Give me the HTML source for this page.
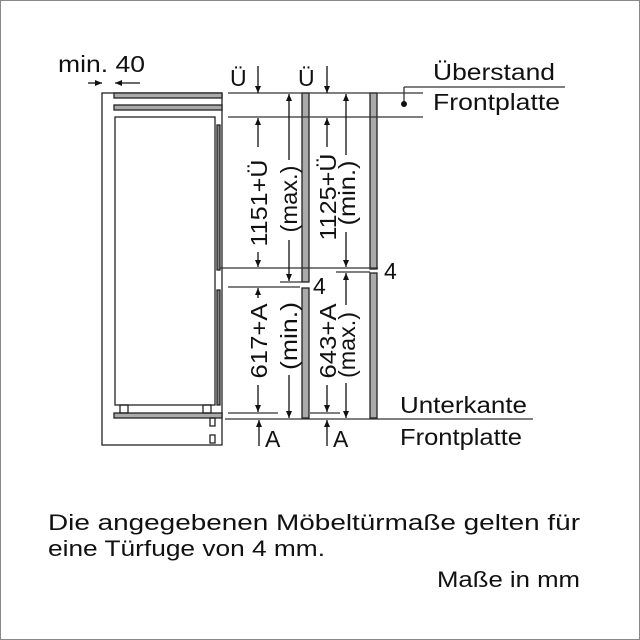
<!DOCTYPE html>
<html><head><style>
html,body{margin:0;padding:0;background:#fff}
svg{display:block}
text{font-family:"Liberation Sans",sans-serif;fill:#111}
</style></head><body>
<svg width="640" height="640" viewBox="0 0 640 640" xmlns="http://www.w3.org/2000/svg">
<defs>
<marker id="ah" markerWidth="8" markerHeight="8" refX="7" refY="4" orient="auto" markerUnits="userSpaceOnUse"><path d="M0,1 L7,4 L0,7 z" fill="#111"/></marker>
</defs>
<rect x="0.5" y="0.5" width="639" height="639" fill="#fff" stroke="#888"/>
<g stroke="#222" stroke-width="1.3" fill="none">
<rect x="102" y="93" width="120" height="352"/>
<rect x="114" y="93" width="108" height="5" fill="#aaa"/>
<rect x="114" y="105" width="108" height="5" fill="#aaa"/>
<rect x="115" y="117" width="100" height="288"/>
<rect x="217" y="125" width="3" height="145" fill="#888"/>
<rect x="217" y="290" width="3" height="115" fill="#888"/>
<rect x="114" y="413" width="108" height="5" fill="#aaa"/>
<rect x="120" y="405" width="8" height="8"/><rect x="203" y="405" width="8" height="8"/>
<rect x="210" y="418" width="5" height="8"/><rect x="210" y="435" width="5" height="8"/>
<rect x="302" y="93" width="7" height="189" fill="#aaa"/>
<rect x="302" y="288" width="7" height="130" fill="#aaa"/>
<rect x="370" y="93" width="7" height="176" fill="#aaa"/>
<rect x="370" y="273" width="7" height="145" fill="#aaa"/>
</g>
<g stroke="#333" stroke-width="1.3" fill="none">
<line x1="228" y1="93" x2="423" y2="93"/>
<line x1="228" y1="117" x2="423" y2="117"/>
<line x1="404" y1="87" x2="565" y2="87"/>
<line x1="404" y1="87" x2="404" y2="104"/>
<line x1="220" y1="268" x2="378" y2="268"/>
<line x1="228" y1="287" x2="300" y2="287"/>
<line x1="280" y1="282" x2="302" y2="282"/>
<line x1="336" y1="272" x2="370" y2="272"/>
<line x1="228" y1="413" x2="278" y2="413"/>
<line x1="310" y1="413" x2="340" y2="413"/>
<line x1="225" y1="419" x2="533" y2="419"/>
</g>
<circle cx="404" cy="104" r="3" fill="#111"/>
<g stroke="#111" stroke-width="1.3" marker-end="url(#ah)">
<line x1="88" y1="83" x2="102" y2="83"/>
<line x1="140" y1="83" x2="115" y2="83"/>
<line x1="258" y1="66" x2="258" y2="93"/>
<line x1="327" y1="66" x2="327" y2="93"/>
<line x1="258" y1="147" x2="258" y2="118"/>
<line x1="258" y1="252" x2="258" y2="267"/>
<line x1="289" y1="160" x2="289" y2="94"/>
<line x1="289" y1="240" x2="289" y2="281"/>
<line x1="327" y1="147" x2="327" y2="118"/>
<line x1="346" y1="155" x2="346" y2="94"/>
<line x1="346" y1="232" x2="346" y2="267"/>
<line x1="258" y1="298" x2="258" y2="288"/>
<line x1="258" y1="385" x2="258" y2="412"/>
<line x1="289" y1="375" x2="289" y2="418"/>
<line x1="327" y1="385" x2="327" y2="412"/>
<line x1="346" y1="305" x2="346" y2="273"/>
<line x1="346" y1="383" x2="346" y2="418"/>
<line x1="259" y1="446" x2="259" y2="420"/>
<line x1="327" y1="446" x2="327" y2="420"/>
</g>
<text x="58" y="72" font-size="23" textLength="87" lengthAdjust="spacingAndGlyphs">min. 40</text>
<text x="230" y="86" font-size="23">Ü</text>
<text x="298" y="86" font-size="23">Ü</text>
<text x="433" y="80" font-size="23" textLength="122" lengthAdjust="spacingAndGlyphs">Überstand</text>
<text x="433" y="110" font-size="23" textLength="127" lengthAdjust="spacingAndGlyphs">Frontplatte</text>
<text x="384" y="279" font-size="23">4</text>
<text x="313" y="294" font-size="23">4</text>
<text x="400" y="413" font-size="23" textLength="127" lengthAdjust="spacingAndGlyphs">Unterkante</text>
<text x="400" y="445" font-size="23" textLength="122" lengthAdjust="spacingAndGlyphs">Frontplatte</text>
<text x="265" y="447" font-size="23">A</text>
<text x="333" y="447" font-size="23">A</text>
<g font-size="23" text-anchor="middle" lengthAdjust="spacingAndGlyphs">
<text transform="translate(267,203) rotate(-90)" textLength="87" lengthAdjust="spacingAndGlyphs">1151+Ü</text>
<text transform="translate(297,199) rotate(-90)" textLength="67" lengthAdjust="spacingAndGlyphs">(max.)</text>
<text transform="translate(336,197) rotate(-90)" textLength="87" lengthAdjust="spacingAndGlyphs">1125+Ü</text>
<text transform="translate(355,193) rotate(-90)" textLength="65" lengthAdjust="spacingAndGlyphs">(min.)</text>
<text transform="translate(267,341) rotate(-90)" textLength="75" lengthAdjust="spacingAndGlyphs">617+A</text>
<text transform="translate(297,336) rotate(-90)" textLength="68" lengthAdjust="spacingAndGlyphs">(min.)</text>
<text transform="translate(336,341) rotate(-90)" textLength="75" lengthAdjust="spacingAndGlyphs">643+A</text>
<text transform="translate(355,345) rotate(-90)" textLength="66" lengthAdjust="spacingAndGlyphs">(max.)</text>
</g>
<text x="48" y="530" font-size="22" textLength="532" lengthAdjust="spacingAndGlyphs">Die angegebenen Möbeltürmaße gelten für</text>
<text x="48" y="556" font-size="22" textLength="277" lengthAdjust="spacingAndGlyphs">eine Türfuge von 4 mm.</text>
<text x="437" y="587" font-size="22" textLength="143" lengthAdjust="spacingAndGlyphs">Maße in mm</text>
</svg>
</body></html>
